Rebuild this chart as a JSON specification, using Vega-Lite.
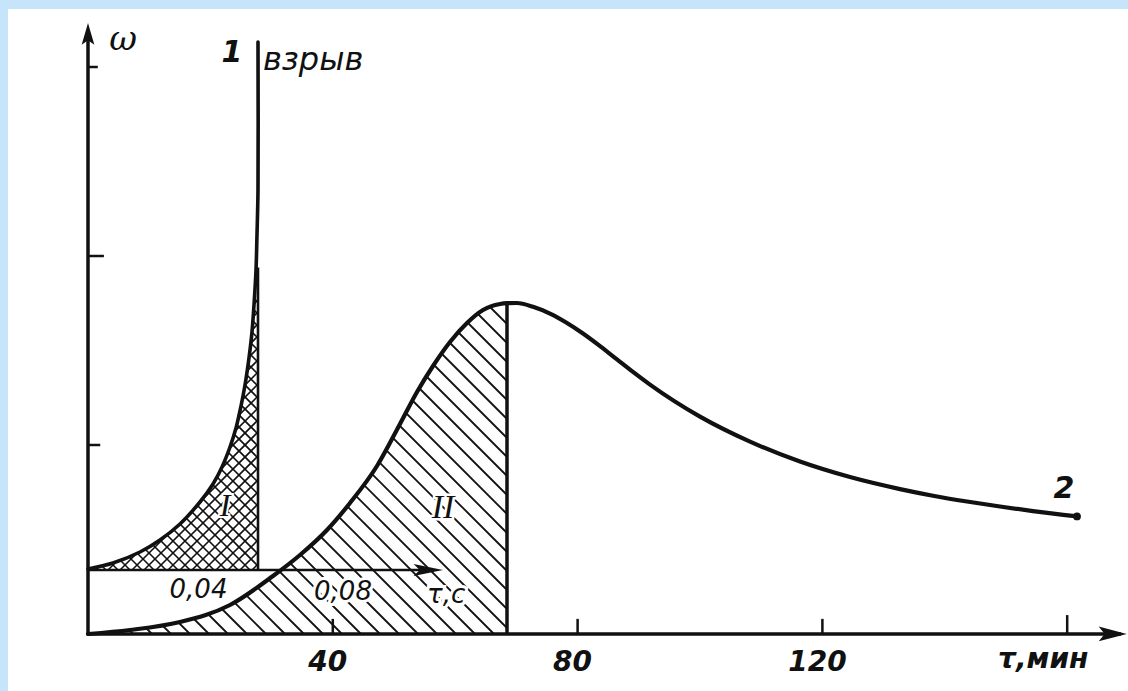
{
  "$schema": "https://vega.github.io/schema/vega-lite/v6.json",
  "width": 1128,
  "height": 691,
  "autosize": {"type": "fit", "contains": "padding"},
  "padding": {"left": 8, "top": 9, "right": 0, "bottom": 0},
  "background": "#c6e5fb",
  "config": {"view": {"stroke": null, "fill": "white"}},
  "resolve": {"scale": {"x": "independent", "y": "independent"}},
  "datasets": {
    "curve2": [
      {"t": 0, "w": 0}, {"t": 6.863, "w": 0.0212}, {"t": 15.033, "w": 0.0635}, {"t": 23.203, "w": 0.1534},
      {"t": 30.229, "w": 0.3069}, {"t": 34.641, "w": 0.418}, {"t": 39.052, "w": 0.5503}, {"t": 42.81, "w": 0.6931},
      {"t": 47.222, "w": 0.8889}, {"t": 50.98, "w": 1.1111}, {"t": 53.758, "w": 1.2804}, {"t": 56.373, "w": 1.418},
      {"t": 59.15, "w": 1.545}, {"t": 61.928, "w": 1.6455}, {"t": 64.542, "w": 1.7143}, {"t": 67.32, "w": 1.746},
      {"t": 68.464, "w": 1.7503}, {"t": 70.098, "w": 1.7513}, {"t": 72.712, "w": 1.7312}, {"t": 75.49, "w": 1.6952},
      {"t": 78.268, "w": 1.6455}, {"t": 80.882, "w": 1.5899}, {"t": 83.66, "w": 1.5233}, {"t": 86.438, "w": 1.4529},
      {"t": 89.052, "w": 1.3868}, {"t": 91.83, "w": 1.3196}, {"t": 100.0, "w": 1.1503}, {"t": 108.17, "w": 1.018},
      {"t": 116.34, "w": 0.9122}, {"t": 124.51, "w": 0.8302}, {"t": 132.68, "w": 0.7667}, {"t": 138.072, "w": 0.7317},
      {"t": 143.627, "w": 0.7011}, {"t": 149.02, "w": 0.6746}, {"t": 154.412, "w": 0.6503}, {"t": 161.601, "w": 0.6222}
    ],
    "curve1": [
      {"ts": 0, "w": 0.0053}, {"ts": 0.00816, "w": 0.037}, {"ts": 0.01698, "w": 0.0952}, {"ts": 0.02351, "w": 0.1587},
      {"ts": 0.03004, "w": 0.2434}, {"ts": 0.03657, "w": 0.3598}, {"ts": 0.04082, "w": 0.455}, {"ts": 0.04376, "w": 0.545},
      {"ts": 0.04637, "w": 0.6508}, {"ts": 0.04833, "w": 0.7513}, {"ts": 0.04996, "w": 0.8677}, {"ts": 0.05127, "w": 0.9788},
      {"ts": 0.05257, "w": 1.1217}, {"ts": 0.05355, "w": 1.2593}, {"ts": 0.0542, "w": 1.4021}, {"ts": 0.05486, "w": 1.5873},
      {"ts": 0.05518, "w": 1.7725}, {"ts": 0.05551, "w": 2.0106}, {"ts": 0.05551, "w": 2.7937}
    ],
    "hatch2": [
      {"t": 1.144, "w": 0, "t2": 0, "w2": 0.037}, {"t": 4.248, "w": 0, "t2": 0, "w2": 0.1376},
      {"t": 7.353, "w": 0, "t2": 0, "w2": 0.2381}, {"t": 10.458, "w": 0, "t2": 0, "w2": 0.3386},
      {"t": 13.562, "w": 0, "t2": 0, "w2": 0.4392}, {"t": 16.667, "w": 0, "t2": 0, "w2": 0.5397},
      {"t": 19.771, "w": 0, "t2": 0, "w2": 0.6402}, {"t": 22.876, "w": 0, "t2": 0, "w2": 0.7407},
      {"t": 25.98, "w": 0, "t2": 0, "w2": 0.8413}, {"t": 29.085, "w": 0, "t2": 0, "w2": 0.9418},
      {"t": 32.19, "w": 0, "t2": 0, "w2": 1.0423}, {"t": 35.294, "w": 0, "t2": 0, "w2": 1.1429},
      {"t": 38.399, "w": 0, "t2": 0, "w2": 1.2434}, {"t": 41.503, "w": 0, "t2": 0, "w2": 1.3439},
      {"t": 44.608, "w": 0, "t2": 0, "w2": 1.4444}, {"t": 47.712, "w": 0, "t2": 0, "w2": 1.545},
      {"t": 50.817, "w": 0, "t2": 0, "w2": 1.6455}, {"t": 53.922, "w": 0, "t2": 0, "w2": 1.746},
      {"t": 57.026, "w": 0, "t2": 2.941, "w2": 1.7513}, {"t": 60.131, "w": 0, "t2": 6.046, "w2": 1.7513},
      {"t": 63.235, "w": 0, "t2": 9.15, "w2": 1.7513}, {"t": 66.34, "w": 0, "t2": 12.255, "w2": 1.7513},
      {"t": 68.464, "w": 0.0317, "t2": 15.359, "w2": 1.7513}, {"t": 68.464, "w": 0.1323, "t2": 18.464, "w2": 1.7513},
      {"t": 68.464, "w": 0.2328, "t2": 21.569, "w2": 1.7513}, {"t": 68.464, "w": 0.3333, "t2": 24.673, "w2": 1.7513},
      {"t": 68.464, "w": 0.4339, "t2": 27.778, "w2": 1.7513}, {"t": 68.464, "w": 0.5344, "t2": 30.882, "w2": 1.7513},
      {"t": 68.464, "w": 0.6349, "t2": 33.987, "w2": 1.7513}, {"t": 68.464, "w": 0.7354, "t2": 37.092, "w2": 1.7513},
      {"t": 68.464, "w": 0.836, "t2": 40.196, "w2": 1.7513}, {"t": 68.464, "w": 0.9365, "t2": 43.301, "w2": 1.7513},
      {"t": 68.464, "w": 1.037, "t2": 46.405, "w2": 1.7513}, {"t": 68.464, "w": 1.1376, "t2": 49.51, "w2": 1.7513},
      {"t": 68.464, "w": 1.2381, "t2": 52.614, "w2": 1.7513}, {"t": 68.464, "w": 1.3386, "t2": 55.719, "w2": 1.7513},
      {"t": 68.464, "w": 1.4392, "t2": 58.824, "w2": 1.7513}, {"t": 68.464, "w": 1.5397, "t2": 61.928, "w2": 1.7513},
      {"t": 68.464, "w": 1.6402, "t2": 65.033, "w2": 1.7513}, {"t": 68.464, "w": 1.7407, "t2": 68.137, "w2": 1.7513}
    ],
    "hatch1": [
      {"ts": 0.00196, "w": 0, "ts2": 0, "w2": 0.0317}, {"ts": 0.00588, "w": 0, "ts2": 0, "w2": 0.0952},
      {"ts": 0.0098, "w": 0, "ts2": 0, "w2": 0.1587}, {"ts": 0.01371, "w": 0, "ts2": 0, "w2": 0.2222},
      {"ts": 0.01763, "w": 0, "ts2": 0, "w2": 0.2857}, {"ts": 0.02155, "w": 0, "ts2": 0, "w2": 0.3492},
      {"ts": 0.02547, "w": 0, "ts2": 0, "w2": 0.4127}, {"ts": 0.02939, "w": 0, "ts2": 0, "w2": 0.4762},
      {"ts": 0.03331, "w": 0, "ts2": 0, "w2": 0.5397}, {"ts": 0.03722, "w": 0, "ts2": 0, "w2": 0.6032},
      {"ts": 0.04114, "w": 0, "ts2": 0, "w2": 0.6667}, {"ts": 0.04506, "w": 0, "ts2": 0, "w2": 0.7302},
      {"ts": 0.04898, "w": 0, "ts2": 0, "w2": 0.7937}, {"ts": 0.0529, "w": 0, "ts2": 0, "w2": 0.8571},
      {"ts": 0.05551, "w": 0.0212, "ts2": 0, "w2": 0.9206}, {"ts": 0.05551, "w": 0.0847, "ts2": 0, "w2": 0.9841},
      {"ts": 0.05551, "w": 0.1481, "ts2": 0, "w2": 1.0476}, {"ts": 0.05551, "w": 0.2116, "ts2": 0, "w2": 1.1111},
      {"ts": 0.05551, "w": 0.2751, "ts2": 0, "w2": 1.1746}, {"ts": 0.05551, "w": 0.3386, "ts2": 0, "w2": 1.2381},
      {"ts": 0.05551, "w": 0.4021, "ts2": 0, "w2": 1.3016}, {"ts": 0.05551, "w": 0.4656, "ts2": 0, "w2": 1.3651},
      {"ts": 0.05551, "w": 0.5291, "ts2": 0, "w2": 1.4286}, {"ts": 0.05551, "w": 0.5926, "ts2": 0.00392, "w2": 1.4286},
      {"ts": 0.05551, "w": 0.6561, "ts2": 0.00784, "w2": 1.4286}, {"ts": 0.05551, "w": 0.7196, "ts2": 0.01176, "w2": 1.4286},
      {"ts": 0.05551, "w": 0.7831, "ts2": 0.01567, "w2": 1.4286}, {"ts": 0.05551, "w": 0.8466, "ts2": 0.01959, "w2": 1.4286},
      {"ts": 0.05551, "w": 0.9101, "ts2": 0.02351, "w2": 1.4286}, {"ts": 0.05551, "w": 0.9735, "ts2": 0.02743, "w2": 1.4286},
      {"ts": 0.05551, "w": 1.037, "ts2": 0.03135, "w2": 1.4286}, {"ts": 0.05551, "w": 1.1005, "ts2": 0.03527, "w2": 1.4286},
      {"ts": 0.05551, "w": 1.164, "ts2": 0.03918, "w2": 1.4286}, {"ts": 0.05551, "w": 1.2275, "ts2": 0.0431, "w2": 1.4286},
      {"ts": 0.05551, "w": 1.291, "ts2": 0.04702, "w2": 1.4286}, {"ts": 0.05551, "w": 1.3545, "ts2": 0.05094, "w2": 1.4286},
      {"ts": 0.05551, "w": 1.418, "ts2": 0.05486, "w2": 1.4286},
      {"ts": 0, "w": 0.5291, "ts2": 0.05551, "w2": 1.4286}, {"ts": 0, "w": 0.4656, "ts2": 0.05551, "w2": 1.3651},
      {"ts": 0, "w": 0.4021, "ts2": 0.05551, "w2": 1.3016}, {"ts": 0, "w": 0.3386, "ts2": 0.05551, "w2": 1.2381},
      {"ts": 0, "w": 0.2751, "ts2": 0.05551, "w2": 1.1746}, {"ts": 0, "w": 0.2116, "ts2": 0.05551, "w2": 1.1111},
      {"ts": 0, "w": 0.1481, "ts2": 0.05551, "w2": 1.0476}, {"ts": 0, "w": 0.0847, "ts2": 0.05551, "w2": 0.9841},
      {"ts": 0, "w": 0.0212, "ts2": 0.05551, "w2": 0.9206}, {"ts": 0.00261, "w": 0, "ts2": 0.05551, "w2": 0.8571},
      {"ts": 0.00653, "w": 0, "ts2": 0.05551, "w2": 0.7937}, {"ts": 0.01045, "w": 0, "ts2": 0.05551, "w2": 0.7302},
      {"ts": 0.01437, "w": 0, "ts2": 0.05551, "w2": 0.6667}, {"ts": 0.01829, "w": 0, "ts2": 0.05551, "w2": 0.6032},
      {"ts": 0.0222, "w": 0, "ts2": 0.05551, "w2": 0.5397}, {"ts": 0.02612, "w": 0, "ts2": 0.05551, "w2": 0.4762},
      {"ts": 0.03004, "w": 0, "ts2": 0.05551, "w2": 0.4127}, {"ts": 0.03396, "w": 0, "ts2": 0.05551, "w2": 0.3492},
      {"ts": 0.03788, "w": 0, "ts2": 0.05551, "w2": 0.2857}, {"ts": 0.0418, "w": 0, "ts2": 0.05551, "w2": 0.2222},
      {"ts": 0.04571, "w": 0, "ts2": 0.05551, "w2": 0.1587}, {"ts": 0.04963, "w": 0, "ts2": 0.05551, "w2": 0.0952},
      {"ts": 0.05355, "w": 0, "ts2": 0.05551, "w2": 0.0317}
    ],
    "mainlines": [
      {"t": 0, "w": 0, "t2": 0, "w2": 3.19},
      {"t": 0, "w": 0, "t2": 168.8, "w2": 0},
      {"t": 68.464, "w": 0, "t2": 68.464, "w2": 1.7503}
    ],
    "mainticks": [
      {"t": 40, "w": 0, "t2": 40, "w2": 0.08},
      {"t": 80, "w": 0, "t2": 80, "w2": 0.08},
      {"t": 120, "w": 0, "t2": 120, "w2": 0.08},
      {"t": 160, "w": 0, "t2": 160, "w2": 0.1},
      {"t": 0, "w": 1, "t2": 2.0, "w2": 1},
      {"t": 0, "w": 2, "t2": 2.6, "w2": 2},
      {"t": 0, "w": 3, "t2": 1.6, "w2": 3}
    ],
    "insetlines": [
      {"ts": 0, "w": 0, "ts2": 0.112, "w2": 0},
      {"ts": 0.05551, "w": 0, "ts2": 0.05551, "w2": 1.6}
    ],
    "xlabels": [
      {"t": 40, "w": -0.153, "s": "40"},
      {"t": 80, "w": -0.153, "s": "80"},
      {"t": 120, "w": -0.153, "s": "120"},
      {"t": 156.9, "w": -0.14, "s": "τ,мин"}
    ],
    "biglabels": [
      {"t": 23.53, "w": 3.074, "s": "1"},
      {"t": 159.48, "w": 0.767, "s": "2"}
    ]
  },
  "layer": [
    {
      "data": {"name": "hatch2"},
      "mark": {"type": "rule", "stroke": "#111", "strokeWidth": 1.8},
      "encoding": {
        "x": {"field": "t", "type": "quantitative", "scale": {"domain": [-13.072, 169.935], "nice": false, "zero": false}, "axis": null},
        "y": {"field": "w", "type": "quantitative", "scale": {"domain": [-0.3016, 3.3069], "nice": false, "zero": false}, "axis": null},
        "x2": {"field": "t2"},
        "y2": {"field": "w2"}
      }
    },
    {
      "data": {"name": "curve2"},
      "transform": [{"filter": "datum.t <= 68.47"}],
      "mark": {"type": "area", "fill": "white", "interpolate": "monotone"},
      "encoding": {
        "x": {"field": "t", "type": "quantitative", "scale": {"domain": [-13.072, 169.935], "nice": false, "zero": false}, "axis": null},
        "y": {"field": "w", "type": "quantitative", "scale": {"domain": [-0.3016, 3.3069], "nice": false, "zero": false}, "axis": null},
        "y2": {"datum": 1.76}
      }
    },
    {
      "data": {"name": "hatch1"},
      "mark": {"type": "rule", "stroke": "#111", "strokeWidth": 1.6},
      "encoding": {
        "x": {"field": "ts", "type": "quantitative", "scale": {"domain": [-0.026122, 0.339592], "nice": false, "zero": false}, "axis": null},
        "y": {"field": "w", "type": "quantitative", "scale": {"domain": [-0.6402, 2.9683], "nice": false, "zero": false}, "axis": null},
        "x2": {"field": "ts2"},
        "y2": {"field": "w2"}
      }
    },
    {
      "data": {"name": "curve1"},
      "transform": [{"filter": "datum.ts <= 0.0543"}],
      "mark": {"type": "area", "fill": "white", "interpolate": "catmull-rom"},
      "encoding": {
        "x": {"field": "ts", "type": "quantitative", "scale": {"domain": [-0.026122, 0.339592], "nice": false, "zero": false}, "axis": null},
        "y": {"field": "w", "type": "quantitative", "scale": {"domain": [-0.6402, 2.9683], "nice": false, "zero": false}, "axis": null},
        "y2": {"datum": 1.44}
      }
    },
    {
      "data": {"values": [{"ts": 0.04, "w": -0.106, "s": "0,04"}]},
      "mark": {"type": "text", "font": "DejaVu Sans", "fontStyle": "italic", "fontSize": 26, "fill": "#111", "stroke": "white", "strokeWidth": 6, "dx": -12, "baseline": "middle", "align": "center"},
      "encoding": {
        "x": {"field": "ts", "type": "quantitative", "scale": {"domain": [-0.026122, 0.339592], "nice": false, "zero": false}, "axis": null},
        "y": {"field": "w", "type": "quantitative", "scale": {"domain": [-0.6402, 2.9683], "nice": false, "zero": false}, "axis": null},
        "text": {"field": "s"}
      }
    },
    {
      "data": {"values": [{"ts": 0.08, "w": -0.116, "s": "0,08"}, {"ts": 0.1137, "w": -0.132, "s": "τ,с"}]},
      "mark": {"type": "text", "font": "DejaVu Sans", "fontStyle": "italic", "fontSize": 26, "fill": "#111", "stroke": "white", "strokeWidth": 6, "dx": 10, "baseline": "middle", "align": "center"},
      "encoding": {
        "x": {"field": "ts", "type": "quantitative", "scale": {"domain": [-0.026122, 0.339592], "nice": false, "zero": false}, "axis": null},
        "y": {"field": "w", "type": "quantitative", "scale": {"domain": [-0.6402, 2.9683], "nice": false, "zero": false}, "axis": null},
        "text": {"field": "s"}
      }
    },
    {
      "data": {"values": [{"ts": 0.04, "w": -0.106, "s": "0,04"}]},
      "mark": {"type": "text", "font": "DejaVu Sans", "fontStyle": "italic", "fontSize": 26, "fill": "#111", "dx": -12, "baseline": "middle", "align": "center"},
      "encoding": {
        "x": {"field": "ts", "type": "quantitative", "scale": {"domain": [-0.026122, 0.339592], "nice": false, "zero": false}, "axis": null},
        "y": {"field": "w", "type": "quantitative", "scale": {"domain": [-0.6402, 2.9683], "nice": false, "zero": false}, "axis": null},
        "text": {"field": "s"}
      }
    },
    {
      "data": {"values": [{"ts": 0.08, "w": -0.116, "s": "0,08"}, {"ts": 0.1137, "w": -0.132, "s": "τ,с"}]},
      "mark": {"type": "text", "font": "DejaVu Sans", "fontStyle": "italic", "fontSize": 26, "fill": "#111", "dx": 10, "baseline": "middle", "align": "center"},
      "encoding": {
        "x": {"field": "ts", "type": "quantitative", "scale": {"domain": [-0.026122, 0.339592], "nice": false, "zero": false}, "axis": null},
        "y": {"field": "w", "type": "quantitative", "scale": {"domain": [-0.6402, 2.9683], "nice": false, "zero": false}, "axis": null},
        "text": {"field": "s"}
      }
    },
    {
      "data": {"name": "mainlines"},
      "mark": {"type": "rule", "stroke": "#111", "strokeWidth": 3.5},
      "encoding": {
        "x": {"field": "t", "type": "quantitative", "scale": {"domain": [-13.072, 169.935], "nice": false, "zero": false}, "axis": null},
        "y": {"field": "w", "type": "quantitative", "scale": {"domain": [-0.3016, 3.3069], "nice": false, "zero": false}, "axis": null},
        "x2": {"field": "t2"},
        "y2": {"field": "w2"}
      }
    },
    {
      "data": {"name": "mainticks"},
      "mark": {"type": "rule", "stroke": "#111", "strokeWidth": 2.5},
      "encoding": {
        "x": {"field": "t", "type": "quantitative", "scale": {"domain": [-13.072, 169.935], "nice": false, "zero": false}, "axis": null},
        "y": {"field": "w", "type": "quantitative", "scale": {"domain": [-0.3016, 3.3069], "nice": false, "zero": false}, "axis": null},
        "x2": {"field": "t2"},
        "y2": {"field": "w2"}
      }
    },
    {
      "data": {"values": [{"t": 0, "w": 3.172}]},
      "mark": {"type": "point", "shape": "M 0 -1 L 0.55 0.9 L 0 0.5 L -0.55 0.9 Z", "filled": true, "fill": "#111", "size": 530, "opacity": 1, "strokeWidth": 0},
      "encoding": {
        "x": {"field": "t", "type": "quantitative", "scale": {"domain": [-13.072, 169.935], "nice": false, "zero": false}, "axis": null},
        "y": {"field": "w", "type": "quantitative", "scale": {"domain": [-0.3016, 3.3069], "nice": false, "zero": false}, "axis": null}
      }
    },
    {
      "data": {"values": [{"t": 167.32, "w": 0}]},
      "mark": {"type": "point", "shape": "M 1 0 L -0.9 -0.5 L -0.5 0 L -0.9 0.5 Z", "filled": true, "fill": "#111", "size": 870, "opacity": 1, "strokeWidth": 0},
      "encoding": {
        "x": {"field": "t", "type": "quantitative", "scale": {"domain": [-13.072, 169.935], "nice": false, "zero": false}, "axis": null},
        "y": {"field": "w", "type": "quantitative", "scale": {"domain": [-0.3016, 3.3069], "nice": false, "zero": false}, "axis": null}
      }
    },
    {
      "data": {"name": "insetlines"},
      "mark": {"type": "rule", "stroke": "#111", "strokeWidth": 2.6},
      "encoding": {
        "x": {"field": "ts", "type": "quantitative", "scale": {"domain": [-0.026122, 0.339592], "nice": false, "zero": false}, "axis": null},
        "y": {"field": "w", "type": "quantitative", "scale": {"domain": [-0.6402, 2.9683], "nice": false, "zero": false}, "axis": null},
        "x2": {"field": "ts2"},
        "y2": {"field": "w2"}
      }
    },
    {
      "data": {"values": [{"ts": 0.11086, "w": 0}]},
      "mark": {"type": "point", "shape": "M 1 0 L -0.9 -0.38 L -0.5 0 L -0.9 0.38 Z", "filled": true, "fill": "#111", "size": 960, "opacity": 1, "strokeWidth": 0},
      "encoding": {
        "x": {"field": "ts", "type": "quantitative", "scale": {"domain": [-0.026122, 0.339592], "nice": false, "zero": false}, "axis": null},
        "y": {"field": "w", "type": "quantitative", "scale": {"domain": [-0.6402, 2.9683], "nice": false, "zero": false}, "axis": null}
      }
    },
    {
      "data": {"name": "curve2"},
      "mark": {"type": "line", "interpolate": "monotone", "stroke": "#111", "strokeWidth": 4.2, "strokeCap": "round"},
      "encoding": {
        "x": {"field": "t", "type": "quantitative", "scale": {"domain": [-13.072, 169.935], "nice": false, "zero": false}, "axis": null},
        "y": {"field": "w", "type": "quantitative", "scale": {"domain": [-0.3016, 3.3069], "nice": false, "zero": false}, "axis": null}
      }
    },
    {
      "data": {"values": [{"t": 161.601, "w": 0.6222}]},
      "mark": {"type": "point", "filled": true, "fill": "#111", "size": 60, "opacity": 1},
      "encoding": {
        "x": {"field": "t", "type": "quantitative", "scale": {"domain": [-13.072, 169.935], "nice": false, "zero": false}, "axis": null},
        "y": {"field": "w", "type": "quantitative", "scale": {"domain": [-0.3016, 3.3069], "nice": false, "zero": false}, "axis": null}
      }
    },
    {
      "data": {"name": "curve1"},
      "mark": {"type": "line", "interpolate": "catmull-rom", "stroke": "#111", "strokeWidth": 3.6, "strokeCap": "round", "strokeJoin": "round"},
      "encoding": {
        "x": {"field": "ts", "type": "quantitative", "scale": {"domain": [-0.026122, 0.339592], "nice": false, "zero": false}, "axis": null},
        "y": {"field": "w", "type": "quantitative", "scale": {"domain": [-0.6402, 2.9683], "nice": false, "zero": false}, "axis": null}
      }
    },
    {
      "data": {"name": "xlabels"},
      "mark": {"type": "text", "font": "DejaVu Sans", "fontStyle": "italic", "fontWeight": "bold", "fontSize": 28, "fill": "#111", "dx": -5, "baseline": "middle", "align": "center"},
      "encoding": {
        "x": {"field": "t", "type": "quantitative", "scale": {"domain": [-13.072, 169.935], "nice": false, "zero": false}, "axis": null},
        "y": {"field": "w", "type": "quantitative", "scale": {"domain": [-0.3016, 3.3069], "nice": false, "zero": false}, "axis": null},
        "text": {"field": "s"}
      }
    },
    {
      "data": {"name": "biglabels"},
      "mark": {"type": "text", "font": "DejaVu Sans", "fontStyle": "italic", "fontWeight": "bold", "fontSize": 30, "fill": "#111", "baseline": "middle", "align": "center"},
      "encoding": {
        "x": {"field": "t", "type": "quantitative", "scale": {"domain": [-13.072, 169.935], "nice": false, "zero": false}, "axis": null},
        "y": {"field": "w", "type": "quantitative", "scale": {"domain": [-0.3016, 3.3069], "nice": false, "zero": false}, "axis": null},
        "text": {"field": "s"}
      }
    },
    {
      "data": {"values": [{"t": 5.72, "w": 3.143, "s": "ω"}]},
      "mark": {"type": "text", "font": "DejaVu Serif", "fontStyle": "italic", "fontSize": 34, "fill": "#111", "baseline": "middle", "align": "center"},
      "encoding": {
        "x": {"field": "t", "type": "quantitative", "scale": {"domain": [-13.072, 169.935], "nice": false, "zero": false}, "axis": null},
        "y": {"field": "w", "type": "quantitative", "scale": {"domain": [-0.3016, 3.3069], "nice": false, "zero": false}, "axis": null},
        "text": {"field": "s"}
      }
    },
    {
      "data": {"values": [{"t": 28.59, "w": 3.037, "s": "взрыв"}]},
      "mark": {"type": "text", "font": "DejaVu Sans", "fontStyle": "italic", "fontSize": 32, "fill": "#111", "baseline": "middle", "align": "left"},
      "encoding": {
        "x": {"field": "t", "type": "quantitative", "scale": {"domain": [-13.072, 169.935], "nice": false, "zero": false}, "axis": null},
        "y": {"field": "w", "type": "quantitative", "scale": {"domain": [-0.3016, 3.3069], "nice": false, "zero": false}, "axis": null},
        "text": {"field": "s"}
      }
    },
    {
      "data": {"values": [{"t": 58.01, "w": 0.667, "s": "II"}]},
      "mark": {"type": "text", "font": "Liberation Serif", "fontStyle": "italic", "fontSize": 34, "fill": "#111", "stroke": "white", "strokeWidth": 5, "baseline": "middle", "align": "center"},
      "encoding": {
        "x": {"field": "t", "type": "quantitative", "scale": {"domain": [-13.072, 169.935], "nice": false, "zero": false}, "axis": null},
        "y": {"field": "w", "type": "quantitative", "scale": {"domain": [-0.3016, 3.3069], "nice": false, "zero": false}, "axis": null},
        "text": {"field": "s"}
      }
    },
    {
      "data": {"values": [{"t": 58.01, "w": 0.667, "s": "II"}]},
      "mark": {"type": "text", "font": "Liberation Serif", "fontStyle": "italic", "fontSize": 34, "fill": "#111", "baseline": "middle", "align": "center"},
      "encoding": {
        "x": {"field": "t", "type": "quantitative", "scale": {"domain": [-13.072, 169.935], "nice": false, "zero": false}, "axis": null},
        "y": {"field": "w", "type": "quantitative", "scale": {"domain": [-0.3016, 3.3069], "nice": false, "zero": false}, "axis": null},
        "text": {"field": "s"}
      }
    },
    {
      "data": {"values": [{"ts": 0.04473, "w": 0.3386, "s": "I"}]},
      "mark": {"type": "text", "font": "Liberation Serif", "fontStyle": "italic", "fontSize": 32, "fill": "#111", "stroke": "white", "strokeWidth": 4, "baseline": "middle", "align": "center"},
      "encoding": {
        "x": {"field": "ts", "type": "quantitative", "scale": {"domain": [-0.026122, 0.339592], "nice": false, "zero": false}, "axis": null},
        "y": {"field": "w", "type": "quantitative", "scale": {"domain": [-0.6402, 2.9683], "nice": false, "zero": false}, "axis": null},
        "text": {"field": "s"}
      }
    },
    {
      "data": {"values": [{"ts": 0.04473, "w": 0.3386, "s": "I"}]},
      "mark": {"type": "text", "font": "Liberation Serif", "fontStyle": "italic", "fontSize": 32, "fill": "#111", "baseline": "middle", "align": "center"},
      "encoding": {
        "x": {"field": "ts", "type": "quantitative", "scale": {"domain": [-0.026122, 0.339592], "nice": false, "zero": false}, "axis": null},
        "y": {"field": "w", "type": "quantitative", "scale": {"domain": [-0.6402, 2.9683], "nice": false, "zero": false}, "axis": null},
        "text": {"field": "s"}
      }
    }
  ]
}
